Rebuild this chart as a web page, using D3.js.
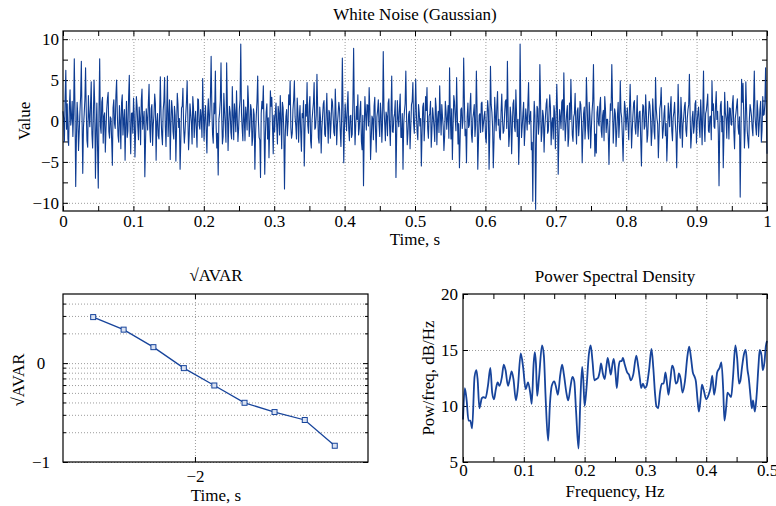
<!DOCTYPE html>
<html>
 <head>
  <meta charset="utf-8">
  <title>White Noise (Gaussian)</title>
  <style>
  body { margin: 0; background: #fff; }
  svg { display: block; font-family: "Liberation Serif", "DejaVu Serif", serif; }
  .grid line { stroke: #9c9c9c; stroke-dasharray: 1,2; }
  .grid path { display: none; }
  .ax path { display: none; }
  .ax line { stroke: #000; }
  .ax text { font-size: 17px; fill: #000; }
  </style>
  <script src="https://cdnjs.cloudflare.com/ajax/libs/d3/7.8.5/d3.min.js"></script>
 </head>
 <body>
  <script>
   // white noise samples (time runs 0..1 s)
   const noiseValues = [
    1.2,0.3,-2.5,2.8,6.2,-1.0,2.1,-2.2,-3.0,1.7,3.8,-0.5,0.4,2.4,-1.9,0.9,7.6,1.5,-8.0,-2.1,2.3,0.6,-3.6,-1.4,1.1,3.0,7.3,0.2,-6.4,-0.8,0.8,2.6,6.5,1.1,-2.4,-3.2,3.1,0.7,-0.7,1.9,4.8,-1.6,-3.3,0.4,5.0,2.0,-7.0,-1.2,2.2,-3.5,-8.2,1.3,7.6,-0.6,-1.5,2.3,2.9,-2.7,0.6,1.0,-3.8,-0.9,1.4,2.7,3.5,-1.3,-2.1,0.5,0.3,-2.4,-5.4,1.6,2.6,-0.3,-0.9,3.1,5.0,0.8,-1.8,-2.6,1.9,0.1,-3.4,2.2,3.2,-1.7,0.1,1.4,-4.8,-0.4,2.4,-2.0,-1.2,2.9,5.6,-0.7,-4.0,0.9,1.0,-1.5,
    2.8,0.6,-4.4,-1.1,3.0,1.9,-0.6,-2.3,1.7,0.4,-2.9,2.5,3.9,-1.0,0.2,1.2,-6.8,-2.6,1.5,0.3,-1.1,2.2,4.5,-0.9,-2.6,1.5,2.0,-3.0,-0.4,0.8,3.3,2.1,-4.8,-0.2,0.9,-1.8,-2.2,1.0,5.4,0.5,-1.7,-2.9,1.3,2.4,5.3,-0.6,-3.1,1.1,5.5,-1.9,0.5,2.6,-4.7,-0.4,2.5,1.3,-1.3,-2.2,1.8,0.7,-4.9,-1.0,3.4,2.0,-0.8,0.3,-5.9,-2.5,1.6,1.8,4.0,-0.7,-2.7,-1.3,0.7,2.3,4.9,0.4,-3.5,-1.6,2.1,0.9,-0.2,-2.8,3.0,1.6,-2.0,0.2,1.2,-1.1,-3.2,2.7,2.6,-0.5,-1.0,1.4,0.4,-2.0,5.2,1.0,
    -2.4,0.5,1.9,-1.2,-3.9,0.8,2.7,-0.6,0.3,2.9,7.9,1.4,-1.6,-2.7,2.2,0.9,6.1,-0.4,-3.3,-1.5,-6.6,0.2,1.0,2.5,7.1,0.6,-2.8,-1.9,3.4,1.2,-0.5,-2.6,7.1,2.0,-3.6,-0.3,1.8,1.1,-1.4,-2.2,4.2,0.7,-2.3,2.1,0.8,-1.3,3.7,0.4,-2.5,-0.9,1.4,2.6,9.4,1.0,-0.9,-2.4,2.6,0.3,-2.4,1.7,0.6,-1.1,4.3,2.2,-1.9,-0.7,2.0,1.3,-3.0,-2.0,1.5,0.8,-5.9,-1.6,0.7,2.4,5.5,0.1,-2.0,-2.3,-6.9,0.9,2.4,1.5,4.3,-0.8,-6.5,-1.4,1.1,2.1,-2.2,0.4,-4.5,-1.0,3.7,1.8,2.9,-0.6,-4.0,0.7,
    -1.3,1.0,2.2,-0.6,-2.8,1.8,0.9,-1.7,3.1,0.2,-3.4,2.3,1.6,-1.1,-8.3,-2.0,0.5,1.4,-1.8,-0.3,3.2,2.0,4.9,-0.8,-2.1,-1.5,1.4,2.6,4.9,0.5,-0.6,-2.2,2.8,1.1,-2.6,0.3,1.9,-1.4,-3.7,0.9,0.4,2.5,-5.5,-1.2,2.0,0.6,4.7,-0.5,-1.5,1.9,3.0,-2.4,-3.3,0.1,1.2,2.2,4.7,-1.0,-0.8,0.7,5.7,1.6,-2.0,-2.7,1.7,0.4,-3.9,-0.9,0.6,2.1,2.5,-1.6,-1.9,0.8,3.4,-0.2,-2.7,1.3,1.0,-2.1,-0.3,2.7,2.3,0.5,-1.4,-1.8,3.9,1.0,-2.9,-0.4,0.8,2.3,1.5,-1.2,-3.1,0.6,7.7,1.2,-5.1,-0.8,
    2.1,0.4,-1.2,1.7,3.6,-0.9,-2.4,0.6,0.7,-2.0,-1.6,2.3,8.9,1.1,-2.9,-0.5,1.8,0.2,3.2,-1.7,-0.9,1.3,2.4,-2.5,-3.5,0.7,-7.9,-1.3,3.0,0.9,-1.1,2.0,1.9,-0.6,4.1,1.4,-4.7,-2.2,0.6,0.3,-2.3,1.8,2.9,-1.0,-3.8,0.5,1.3,2.6,-0.4,-1.9,2.2,0.8,-2.6,-0.2,8.5,1.5,-0.2,-2.4,1.1,0.6,-1.8,2.2,2.7,-0.7,-3.0,1.0,5.5,-1.3,-1.4,0.4,0.9,2.5,-6.9,-1.8,2.5,0.3,-0.7,1.6,3.3,-2.0,-2.0,0.9,-5.9,-0.4,1.2,2.1,6.1,0.6,-2.9,-1.5,0.8,1.2,-3.4,-0.8,2.0,2.4,4.7,-0.3,-1.5,1.1,
    5.1,0.8,-1.3,-2.3,2.0,1.0,-0.6,0.3,-5.5,-1.5,1.7,2.2,-2.4,-0.2,3.0,1.3,4.1,-0.9,-2.1,0.6,0.9,2.4,-3.2,-1.1,1.6,0.5,-0.8,-2.5,2.8,1.7,-2.9,0.2,1.2,-1.4,4.3,0.9,-1.7,2.0,0.5,-0.7,-3.6,-1.9,2.4,1.2,-1.0,0.4,1.9,-2.1,6.5,0.7,-2.2,1.5,-4.7,-0.6,3.1,2.3,0.4,-1.2,5.3,0.8,-2.8,-0.3,-5.7,-2.2,1.4,1.6,-0.9,0.1,7.7,2.5,-1.8,-1.0,-5.1,0.5,2.2,-0.8,-0.5,1.9,3.4,-1.6,-2.6,0.3,1.0,2.0,-1.9,-0.5,6.1,1.4,-5.9,-2.4,0.7,0.9,-1.4,2.2,2.3,-1.3,-0.3,0.6,1.2,-2.0,
    -2.7,0.4,2.5,1.3,-5.9,-1.6,6.7,2.0,1.1,-0.8,-5.7,-2.4,2.9,0.6,-1.2,1.8,3.6,-0.5,0.2,-2.0,-2.3,1.1,3.3,0.3,-1.5,-1.2,0.8,2.4,2.6,-0.9,7.3,1.0,-3.1,-1.7,1.7,0.5,-4.0,-0.6,2.1,2.6,-0.7,-1.3,3.8,0.8,-1.9,0.2,-5.3,-2.1,9.4,1.6,-2.0,-0.7,0.9,2.3,-3.0,-1.1,1.5,0.4,-1.1,2.0,4.7,-0.4,0.3,1.2,-3.5,-2.6,-9.8,-1.0,2.4,0.7,-10.8,-2.8,1.8,1.5,-1.6,-0.3,6.9,2.2,-2.5,-1.4,1.3,0.6,-3.8,-0.8,0.6,2.1,2.7,-1.5,-1.2,0.9,3.2,1.7,-2.9,-0.2,0.4,-2.2,1.9,1.0,-3.4,0.3,
    4.5,1.2,-6.5,-1.9,1.4,0.5,-0.9,2.3,2.6,-1.1,5.9,0.8,-2.4,-0.4,1.0,1.9,-3.1,-2.0,2.2,0.2,5.1,1.4,-1.7,-2.5,0.5,0.9,3.4,-0.6,-2.8,1.2,1.6,-1.8,-0.3,2.4,2.0,0.1,-5.1,-1.4,0.9,1.7,-2.2,-0.5,5.3,2.1,-1.0,-2.2,2.3,0.6,-3.3,-0.9,1.1,2.5,6.9,0.4,-4.3,-1.6,-3.9,1.0,1.8,-0.3,-0.6,2.0,2.9,-1.2,-2.0,0.7,1.3,-2.4,3.0,1.5,-1.4,0.2,0.2,-1.7,-5.3,-0.8,2.1,1.3,6.9,2.2,-2.7,-0.6,1.5,0.9,-3.1,-1.5,0.7,2.3,-2.0,-0.1,4.9,1.1,0.4,-2.0,-4.9,-0.7,2.4,1.6,-1.1,0.3,
    1.6,-0.5,-2.3,1.4,4.5,0.7,-3.3,-1.0,0.8,2.2,2.5,-0.8,-1.6,0.6,3.1,-1.9,-0.4,1.1,1.2,-2.4,-5.5,-0.2,2.0,1.8,-1.0,-0.6,3.2,0.9,-2.6,-1.7,0.6,2.4,1.9,0.2,-3.0,-1.3,2.7,0.8,-1.3,-2.2,5.3,1.5,0.3,-0.4,-4.5,-1.6,1.5,2.1,4.1,0.5,-2.1,-1.0,0.9,1.9,-1.8,-0.3,-4.9,-2.0,2.2,0.6,-0.7,1.6,3.0,-1.2,-2.4,0.4,1.1,2.3,-0.2,-1.5,-5.7,-0.9,4.5,1.0,-1.2,-2.1,2.9,0.7,-3.2,-0.4,0.5,1.8,2.3,-1.1,-1.9,0.3,1.4,2.0,5.7,0.9,-3.3,-1.8,0.4,1.2,-1.5,-0.6,2.1,2.5,-2.7,-0.2,
    1.0,1.7,-0.8,-2.0,2.6,0.4,-2.9,1.1,6.1,-0.6,-2.5,0.9,1.3,2.2,3.3,-1.2,-1.4,0.5,0.6,-2.3,4.9,1.3,2.1,-0.7,-0.9,1.8,3.6,0.2,1.2,-1.6,-7.9,-0.9,1.9,2.4,-1.3,0.6,-5.7,-1.5,3.5,1.0,0.2,-2.1,2.4,0.8,-2.2,1.6,1.5,-0.4,-0.5,2.1,3.1,-1.3,-3.4,0.3,1.0,1.9,2.7,-0.8,-1.6,0.5,-9.3,-1.8,5.1,2.3,4.6,0.7,-3.3,-1.0,4.8,1.5,-1.2,-2.4,-3.3,0.2,2.0,1.4,0.6,-0.9,-1.8,2.0,6.1,0.6,-0.7,-1.7,2.5,1.2,-1.9,-0.5,1.4,2.4,-2.6,-1.1,3.0,0.7,0.8,2.2,6.5,1.3,-4.0
   ];
   const noiseTimeTicks = [0, 0.1, 0.2, 0.3, 0.4, 0.5, 0.6, 0.7, 0.8, 0.9, 1];
   const noiseTimeMinor = [0.05, 0.15, 0.25, 0.35, 0.45, 0.55, 0.65, 0.75, 0.85, 0.95];
   const noiseValueTicks = [-10, -5, 0, 5, 10];
   const noiseValueMinor = [-7.5, -2.5, 2.5, 7.5];

   // sqrt(AVAR) vs averaging time (log-log)
   const avarTau = [0.0031, 0.0044, 0.0062, 0.0088, 0.0125, 0.0177, 0.025, 0.0354, 0.05];
   const avarDev = [2.92, 2.18, 1.45, 0.89, 0.594, 0.397, 0.32, 0.266, 0.146];
   const avarXTicks = [0.01];
   const avarYTicks = [0.1, 1];
   const avarYMinor = [0.2, 0.3, 0.4, 0.5, 0.6, 0.7, 0.8, 0.9, 2, 3, 4];

   // power spectral density
   const psdFreq = [0, 0.003, 0.006, 0.009, 0.012, 0.015, 0.019, 0.022, 0.024, 0.027, 0.031, 0.034, 0.037, 0.041, 0.045, 0.048, 0.051, 0.054, 0.057, 0.06, 0.064, 0.067, 0.07, 0.074, 0.077, 0.08, 0.083, 0.087, 0.09, 0.095, 0.099, 0.103, 0.107, 0.111, 0.113, 0.116, 0.118, 0.12, 0.122, 0.125, 0.13, 0.133, 0.136, 0.14, 0.143, 0.146, 0.15, 0.153, 0.156, 0.16, 0.163, 0.166, 0.17, 0.173, 0.177, 0.18, 0.183, 0.186, 0.19, 0.193, 0.196, 0.198, 0.2, 0.203, 0.207, 0.21, 0.213, 0.216, 0.219, 0.222, 0.225, 0.227, 0.23, 0.233, 0.236, 0.238, 0.241, 0.243, 0.246, 0.248, 0.251, 0.253, 0.256, 0.258, 0.261, 0.263, 0.266, 0.27, 0.273, 0.276, 0.28, 0.285, 0.288, 0.291, 0.293, 0.296, 0.299, 0.302, 0.306, 0.31, 0.313, 0.316, 0.318, 0.321, 0.324, 0.327, 0.33, 0.333, 0.336, 0.338, 0.341, 0.344, 0.347, 0.35, 0.353, 0.355, 0.358, 0.361, 0.365, 0.369, 0.372, 0.375, 0.378, 0.381, 0.383, 0.386, 0.388, 0.391, 0.393, 0.396, 0.4, 0.404, 0.407, 0.41, 0.413, 0.416, 0.418, 0.422, 0.425, 0.428, 0.43, 0.433, 0.435, 0.438, 0.441, 0.444, 0.448, 0.451, 0.454, 0.456, 0.459, 0.462, 0.465, 0.468, 0.47, 0.473, 0.475, 0.477, 0.48, 0.483, 0.486, 0.488, 0.491, 0.493, 0.496, 0.498, 0.5];
   const psdPower = [8.8, 11.6, 10.5, 8.7, 8.7, 8.0, 12.6, 13.2, 12.4, 9.8, 10.7, 10.8, 10.7, 11.8, 13.4, 11.2, 10.6, 11.5, 12.1, 11.8, 12.6, 13.7, 13.2, 11.8, 12.4, 13.1, 12.4, 10.5, 11.5, 14.7, 13.4, 11.5, 12.1, 11.0, 10.2, 13.6, 14.8, 13.8, 10.9, 12.5, 15.4, 14.5, 10.6, 6.9, 10.2, 11.8, 12.2, 11.7, 11.0, 12.8, 13.7, 12.8, 11.2, 10.5, 11.8, 12.6, 12.2, 9.5, 6.2, 10.5, 13.5, 12.2, 10.0, 11.5, 14.6, 15.4, 14.0, 12.3, 12.4, 12.5, 13.1, 13.8, 12.9, 12.4, 13.6, 14.3, 13.4, 12.8, 13.8, 14.2, 12.8, 11.6, 13.5, 14.0, 14.0, 14.3, 13.7, 13.0, 12.8, 12.3, 12.8, 14.5, 13.6, 12.4, 11.6, 12.0, 11.6, 11.8, 13.2, 15.1, 13.4, 11.0, 10.0, 9.8, 11.2, 12.0, 12.0, 13.0, 11.8, 11.0, 12.3, 13.6, 13.2, 12.0, 12.2, 12.9, 12.4, 11.2, 12.2, 14.4, 15.3, 14.3, 13.0, 12.6, 12.2, 10.4, 9.5, 10.8, 11.9, 11.4, 10.6, 11.0, 11.6, 12.7, 11.0, 12.0, 13.0, 13.4, 13.9, 11.4, 8.7, 10.0, 11.2, 11.0, 10.8, 12.5, 15.4, 14.2, 12.0, 12.2, 13.5, 14.6, 15.0, 13.2, 12.5, 10.8, 9.8, 10.5, 9.5, 11.0, 13.6, 15.0, 14.5, 13.2, 14.0, 15.3, 15.8];
   const psdFreqTicks = [0, 0.1, 0.2, 0.3, 0.4, 0.5];
   const psdFreqMinor = [0.05, 0.15, 0.25, 0.35, 0.45];
   const psdPowerTicks = [5, 10, 15, 20];

   const W = 776, H = 506;
   const blue = "#17449b";
   const fmt = d3.format("");

   const svg = d3.select("body").append("svg")
                 .attr("width", W)
                 .attr("height", H);

   // d3.axis puts a sans-serif font on its group; drop it so the serif font is inherited
   function plain(sel) {
    sel.attr("font-family", null).attr("font-size", null);
    return sel;
   }

   // draws dotted grid, inward ticks on all 4 sides and the tick labels
   function frame(x, y, b, o) {
    const g = svg.append("g");
    g.append("g").attr("class", "grid")
     .attr("transform", "translate(0," + b.bottom + ")")
     .call(d3.axisBottom(x).tickValues(o.xGrid).tickSize(-(b.bottom - b.top)).tickFormat(""));
    g.append("g").attr("class", "grid")
     .attr("transform", "translate(" + b.left + ",0)")
     .call(d3.axisLeft(y).tickValues(o.yGrid).tickSize(-(b.right - b.left)).tickFormat(""));
    [[o.xTicks, 5], [o.xMinor || [], o.minorLen || 5]].forEach(s => {
     g.append("g").attr("class", "ax")
      .attr("transform", "translate(0," + b.bottom + ")")
      .call(d3.axisBottom(x).tickValues(s[0]).tickSize(-s[1]).tickFormat(""));
     g.append("g").attr("class", "ax")
      .attr("transform", "translate(0," + b.top + ")")
      .call(d3.axisTop(x).tickValues(s[0]).tickSize(-s[1]).tickFormat(""));
    });
    [[o.yTicks, 5], [o.yMinor || [], o.minorLen || 5]].forEach(s => {
     g.append("g").attr("class", "ax")
      .attr("transform", "translate(" + b.left + ",0)")
      .call(d3.axisLeft(y).tickValues(s[0]).tickSize(-s[1]).tickFormat(""));
     g.append("g").attr("class", "ax")
      .attr("transform", "translate(" + b.right + ",0)")
      .call(d3.axisRight(y).tickValues(s[0]).tickSize(-s[1]).tickFormat(""));
    });
    const xl = g.append("g").attr("class", "ax")
     .attr("transform", "translate(0," + b.bottom + ")")
     .call(d3.axisBottom(x).tickValues(o.xTicks).tickSize(0).tickPadding(o.xPad).tickFormat(o.xFmt))
     .call(plain);
    const yl = g.append("g").attr("class", "ax")
     .attr("transform", "translate(" + b.left + ",0)")
     .call(d3.axisLeft(y).tickValues(o.yTicks).tickSize(0).tickPadding(o.yPad).tickFormat(o.yFmt))
     .call(plain);
    return {g: g, xl: xl, yl: yl};
   }

   function box(b) {
    svg.append("rect")
       .attr("x", b.left).attr("y", b.top)
       .attr("width", b.right - b.left).attr("height", b.bottom - b.top)
       .attr("fill", "none").attr("stroke", "#000").attr("stroke-width", 1.2);
   }

   function label(txt, x, y, rot) {
    svg.append("text")
       .attr("transform", "translate(" + x + "," + y + ")" + (rot ? " rotate(-90)" : ""))
       .attr("text-anchor", "middle")
       .attr("font-size", 17)
       .text(txt);
   }

   // ---- top: white noise ----
   const b1 = {left: 63, right: 767, top: 31, bottom: 211};
   const x1 = d3.scaleLinear().domain([0, 1]).range([b1.left, b1.right]);
   const y1 = d3.scaleLinear().domain([-11, 11]).range([b1.bottom, b1.top]);
   frame(x1, y1, b1, {
    xGrid: noiseTimeTicks.slice(1, -1), yGrid: noiseValueTicks,
    xTicks: noiseTimeTicks, xMinor: noiseTimeMinor,
    yTicks: noiseValueTicks, yMinor: noiseValueMinor,
    xPad: 4, yPad: 4, xFmt: fmt, yFmt: fmt
   });
   const n = noiseValues.length;
   svg.append("path")
      .datum(noiseValues)
      .attr("fill", "none")
      .attr("stroke", "#0e3c92")
      .attr("stroke-width", 1.1)
      .attr("stroke-linejoin", "round")
      .attr("d", d3.line().x((d, i) => x1(i / (n - 1))).y(d => y1(d)));
   box(b1);
   label("White Noise (Gaussian)", 415, 20);
   label("Time, s", 415, 245);
   label("Value", 30, 121, true);

   // ---- bottom left: sqrt AVAR ----
   const b2 = {left: 63, right: 368, top: 294, bottom: 462};
   const x2 = d3.scaleLog().domain([0.00219, 0.0733]).range([b2.left, b2.right]);
   const y2 = d3.scaleLog().domain([0.1, 5]).range([b2.bottom, b2.top]);
   const f2 = frame(x2, y2, b2, {
    xGrid: avarXTicks, yGrid: avarYTicks.concat(avarYMinor),
    xTicks: avarXTicks, yTicks: avarYTicks, yMinor: avarYMinor, minorLen: 3,
    xPad: 8, yPad: 22,
    xFmt: d => fmt(Math.log10(d)), yFmt: d => fmt(Math.log10(d))
   });
   f2.yl.selectAll("text").attr("text-anchor", "middle");
   svg.append("path")
      .datum(avarTau)
      .attr("fill", "none")
      .attr("stroke", blue)
      .attr("stroke-width", 1.3)
      .attr("d", d3.line().x(d => x2(d)).y((d, i) => y2(avarDev[i])));
   svg.selectAll("rect.mk")
      .data(avarTau)
      .enter()
      .append("rect")
      .attr("class", "mk")
      .attr("x", d => x2(d) - 2.5)
      .attr("y", (d, i) => y2(avarDev[i]) - 2.5)
      .attr("width", 5)
      .attr("height", 5)
      .attr("fill", "#dbe3f3")
      .attr("stroke", blue)
      .attr("stroke-width", 1);
   box(b2);
   label("\u221AAVAR", 216, 281);
   label("Time, s", 216, 501);
   label("\u221AAVAR", 24, 380, true);

   // ---- bottom right: PSD ----
   const b3 = {left: 463, right: 767, top: 294, bottom: 462};
   const x3 = d3.scaleLinear().domain([0, 0.5]).range([b3.left, b3.right]);
   const y3 = d3.scaleLinear().domain([5, 20]).range([b3.bottom, b3.top]);
   frame(x3, y3, b3, {
    xGrid: psdFreqTicks.slice(1, -1), yGrid: [10, 15],
    xTicks: psdFreqTicks, xMinor: psdFreqMinor,
    yTicks: psdPowerTicks, xPad: 2, yPad: 5, xFmt: fmt, yFmt: fmt
   });
   svg.append("path")
      .datum(psdFreq)
      .attr("fill", "none")
      .attr("stroke", blue)
      .attr("stroke-width", 1.8)
      .attr("d", d3.line().curve(d3.curveMonotoneX).x(d => x3(d)).y((d, i) => y3(psdPower[i])));
   box(b3);
   label("Power Spectral Density", 615, 282);
   label("Frequency, Hz", 615, 497);
   label("Pow/freq, dB/Hz", 434, 378, true);
  </script>
 </body>
</html>
